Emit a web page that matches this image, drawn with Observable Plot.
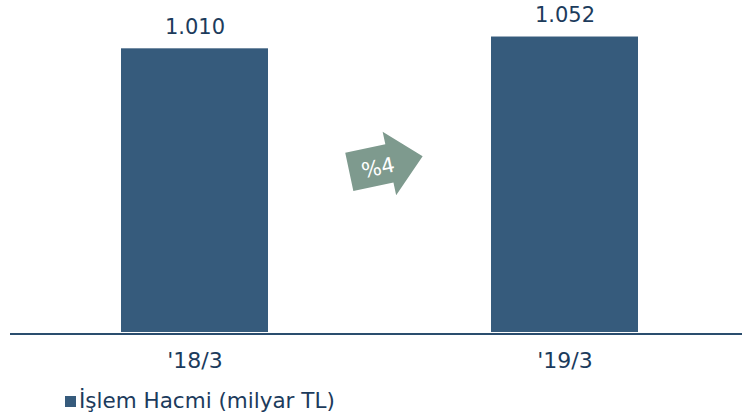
<!DOCTYPE html>
<html>
<head>
<meta charset="utf-8">
<script src="https://cdn.jsdelivr.net/npm/d3@7"></script>
<script src="https://cdn.jsdelivr.net/npm/@observablehq/plot@0.6"></script>
<style>
  html, body { margin: 0; padding: 0; background: #fff; }
  body { width: 742px; height: 420px; overflow: hidden; font-family: "DejaVu Sans", Verdana, sans-serif; }
  #legend { position: relative; height: 35px; }
  #legend .sw { position: absolute; left: 65px; top: 11px; width: 11px; height: 11px; background: #365b7c; }
  #legend .lbl { position: absolute; left: 79px; top: 3px; font-size: 21.5px; color: #1c3b5c; white-space: nowrap; line-height: 26px; }
</style>
</head>
<body>
<div id="chart"></div>
<div id="legend"></div>
<script>
// ---- data ----
const periods = ["'18/3", "'19/3"];
const volumes = [1010, 1052];
const seriesName = "İşlem Hacmi (milyar TL)";

const trFormat = d3.formatLocale({decimal: ",", thousands: ".", grouping: [3], currency: ["", " TL"]}).format(",.0f");
const rows = periods.map((p, i) => ({period: p, value: volumes[i]}));
const growth = Math.round((volumes[1] / volumes[0] - 1) * 100);
const growthLabel = "%" + growth;

const barColor = "#365b7c";
const textColor = "#1c3b5c";
const arrowColor = "#7e9a8e";

function arrowMark(index, scales, values, dimensions) {
  const x = scales.x, y = scales.y;
  const bw = x.bandwidth ? x.bandwidth() : 0;
  const cx = (x(periods[0]) + x(periods[1])) / 2 + bw / 2 + 5;
  const cy = y(d3.max(volumes) * 0.567);
  const g = d3.create("svg:g").attr("transform", `translate(${cx},${cy}) rotate(-12)`);
  g.append("polygon")
    .attr("points", "-36,-19.5 5,-19.5 5,-32.5 39,0 5,32.5 5,19.5 -36,19.5")
    .attr("fill", arrowColor);
  g.append("text")
    .attr("x", -7).attr("y", 2)
    .attr("text-anchor", "middle")
    .attr("dominant-baseline", "central")
    .attr("fill", "#fff")
    .attr("font-size", 21)
    .attr("font-family", "DejaVu Sans, Verdana, sans-serif")
    .text(growthLabel);
  return g.node();
}

const plot = Plot.plot({
  width: 742,
  height: 385,
  marginTop: 0,
  marginBottom: 53,
  marginLeft: 10,
  marginRight: 0,
  style: {fontFamily: "DejaVu Sans, Verdana, sans-serif", color: textColor, background: "#fff"},
  x: {domain: periods, range: [10, 750], paddingInner: 0.602, paddingOuter: 0.3, label: null},
  y: {domain: [0, 1182], axis: null},
  marks: [
    Plot.barY(rows, {x: "period", y: "value", fill: barColor}),
    Plot.ruleY([0], {stroke: "#2a4d6e", strokeWidth: 2, dy: 1.5}),
    Plot.text(rows, {x: "period", y: "value", text: d => trFormat(d.value), lineAnchor: "bottom", dy: -15, fontSize: 21, fill: textColor}),
    Plot.axisX({tickSize: 0, tickPadding: 20, fontSize: 22, label: null, fill: textColor}),
    arrowMark
  ]
});
document.getElementById("chart").appendChild(plot);

const lg = document.getElementById("legend");
lg.innerHTML = `<div class="sw"></div><div class="lbl"></div>`;
lg.querySelector(".lbl").textContent = seriesName;
</script>
</body>
</html>
